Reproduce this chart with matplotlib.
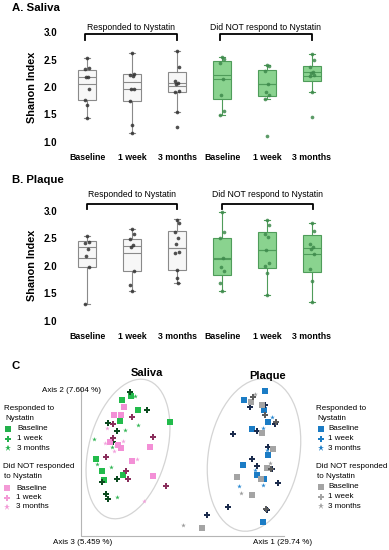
import numpy as np
import matplotlib
matplotlib.use("Agg")
import matplotlib.pyplot as plt
from matplotlib.patches import Ellipse

plt.rcParams["font.family"] = ["Liberation Sans", "DejaVu Sans"]

W, H = 389, 550

# ---- Panel A / B data (Shannon index) ----
groups = ["Baseline", "1 week", "3 months", "Baseline", "1 week", "3 months"]

# saliva box stats
sal_q1 = [1.76, 1.75, 1.91, 1.78, 1.84, 2.11]
sal_q3 = [2.31, 2.23, 2.28, 2.47, 2.31, 2.39]
sal_med = [2.18, 2.09, 2.07, 2.21, 2.05, 2.27]
sal_mean = [2.06, 1.96, 2.02, 2.15, 2.05, 2.20]
sal_lo = [1.43, 1.16, 1.55, 1.49, 1.78, 1.90]
sal_hi = [2.53, 2.61, 2.65, 2.54, 2.40, 2.60]
sal_pts = [
    [2.53, 2.35, 2.32, 2.19, 2.18, 1.97, 1.76, 1.68, 1.43],
    [2.61, 2.24, 2.22, 2.20, 1.96, 1.96, 1.75, 1.30, 1.16],
    [2.65, 2.37, 2.10, 2.08, 2.05, 1.92, 1.91, 1.55, 1.28],
    [2.54, 2.50, 2.44, 2.15, 1.86, 1.57, 1.49],
    [2.40, 2.38, 2.29, 2.05, 1.91, 1.86, 1.78, 1.11],
    [2.60, 2.49, 2.37, 2.28, 2.25, 2.22, 2.20, 1.90, 1.45],
]

# plaque box stats
plq_q1 = [1.98, 1.90, 1.92, 1.84, 1.96, 1.89]
plq_q3 = [2.45, 2.49, 2.64, 2.51, 2.62, 2.56]
plq_med = [2.35, 2.36, 2.32, 2.15, 2.29, 2.32]
plq_mean = [2.15, 2.23, 2.32, 2.12, 2.29, 2.21]
plq_lo = [1.30, 1.55, 1.69, 1.54, 1.47, 1.35]
plq_hi = [2.54, 2.66, 2.85, 2.97, 2.84, 2.77]
plq_pts = [
    [2.54, 2.43, 2.42, 2.30, 2.18, 1.98, 1.30],
    [2.66, 2.57, 2.48, 2.38, 2.35, 1.91, 1.65, 1.55],
    [2.84, 2.77, 2.62, 2.51, 2.39, 2.25, 2.24, 1.93, 1.77, 1.69],
    [2.97, 2.62, 2.50, 2.14, 1.97, 1.90, 1.68, 1.54],
    [2.84, 2.75, 2.57, 2.53, 2.29, 2.05, 2.00, 1.86, 1.47],
    [2.77, 2.63, 2.40, 2.35, 2.30, 2.22, 1.94, 1.73, 1.35],
]

# ---- Panel C data (PCoA scores, projected) ----
sal_r_base_x = [50, 41, 57, 39, 89, 15, 21, 23, 42]
sal_r_base_y = [140, 136, 126, 115, 114, 77, 65, 56, 61]
sal_r_1w_x = [49, 66, 27, 36, 32, 21, 36, 25, 27]
sal_r_1w_y = [144, 126, 113, 105, 94, 54, 57, 42, 37]
sal_r_3m_x = [54, 44, 57, 13, 31, 30, 16, 36]
sal_r_3m_y = [140, 106, 111, 97, 89, 69, 72, 39]
sal_n_base_x = [43, 33, 40, 29, 40, 69, 51, 72, 37]
sal_n_base_y = [129, 121, 121, 94, 88, 89, 75, 60, 91]
sal_n_1w_x = [51, 32, 72, 32, 25, 45, 47, 85]
sal_n_1w_y = [119, 112, 99, 98, 79, 65, 57, 50]
sal_n_3m_x = [26, 42, 24, 33, 56, 63]
sal_n_3m_y = [108, 95, 93, 85, 77, 35]

plq_r_base_x = [184, 163, 183, 187, 171, 187, 162, 176, 183, 182]
plq_r_base_y = [145, 136, 126, 114, 107, 81, 71, 61, 57, 14]
plq_r_1w_x = [169, 184, 194, 152, 176, 187, 171, 176, 191, 197, 147, 126, 186]
plq_r_1w_y = [129, 131, 112, 102, 105, 89, 77, 70, 67, 53, 29, 21, 26]
plq_r_3m_x = [191, 182, 186, 174, 158, 182]
plq_r_3m_y = [119, 108, 86, 66, 50, 51]
plq_n_base_x = [170, 181, 181, 192, 186, 156, 171, 180, 121]
plq_n_base_y = [134, 131, 103, 87, 68, 59, 41, 57, 8]
plq_n_1w_x = [172, 184, 195, 190, 185]
plq_n_1w_y = [139, 121, 114, 67, 27]
plq_n_3m_x = [174, 189, 160, 102]
plq_n_3m_y = [142, 73, 43, 11]

fig = plt.figure(figsize=(W / 100, H / 100), dpi=100)


def rect(l, t, r, b):
    return [l / W, 1 - b / H, (r - l) / W, (b - t) / H]


over = fig.add_axes([0, 0, 1, 1], zorder=5)
over.set_xlim(0, W)
over.set_ylim(H, 0)
over.axis("off")
over.patch.set_alpha(0)

grey_edge = "#8a8a8a"
green_face = "#8ad38f"
green_edge = "#4f9c5a"
jit = [0.0, 0.04, -0.04, 0.02, -0.03, 0.05, -0.05, 0.01, -0.01, 0.03]


def box_panel(ax, q1, q3, med, mean, lo, hi, pts):
    stats = []
    for i in range(6):
        stats.append(dict(q1=q1[i], q3=q3[i], med=med[i], mean=mean[i],
                          whislo=lo[i], whishi=hi[i], fliers=[]))
    bp = ax.bxp(stats, positions=range(6), widths=0.38, patch_artist=True,
                showmeans=True, meanline=True, showfliers=False, capwidths=0.14,
                boxprops=dict(linewidth=0.8),
                whiskerprops=dict(linewidth=0.8),
                capprops=dict(linewidth=0.8),
                medianprops=dict(linewidth=0.8),
                meanprops=dict(linewidth=0.8, linestyle="-"))
    for i in range(6):
        if i < 3:
            fc, ec = "#f7f7f7", grey_edge
        else:
            fc, ec = green_face, green_edge
        bp["boxes"][i].set_facecolor(fc)
        bp["boxes"][i].set_edgecolor(ec)
        bp["medians"][i].set_color(ec)
        bp["means"][i].set_color(ec)
        for k in (2 * i, 2 * i + 1):
            bp["whiskers"][k].set_color(ec)
            bp["caps"][k].set_color(ec)
    for i, vals in enumerate(pts):
        xs = [i + jit[j % len(jit)] for j in range(len(vals))]
        col = "#333333" if i < 3 else "#3e8a4c"
        ax.scatter(xs, vals, s=7, color=col, alpha=0.85, zorder=4, linewidths=0)
    ax.set_xlim(-0.6, 5.6)
    ax.set_ylim(0.95, 3.05)
    ax.set_yticks([1.0, 1.5, 2.0, 2.5, 3.0])
    ax.set_yticklabels(["1.0", "1.5", "2.0", "2.5", "3.0"], fontweight="bold", fontsize=7)
    ax.set_xticks(range(6))
    ax.set_xticklabels(groups, fontweight="bold", fontsize=6.3)
    ax.tick_params(length=0, pad=6)
    ax.tick_params(axis="y", pad=2)
    for sp in ax.spines.values():
        sp.set_visible(False)
    ax.set_ylabel("Shanon Index", fontweight="bold", fontsize=7.8, labelpad=5)


ax_a = fig.add_axes(rect(60, 29.25, 339, 144.75))
box_panel(ax_a, sal_q1, sal_q3, sal_med, sal_mean, sal_lo, sal_hi, sal_pts)
ax_b = fig.add_axes(rect(60, 208, 339, 323.5))
box_panel(ax_b, plq_q1, plq_q3, plq_med, plq_mean, plq_lo, plq_hi, plq_pts)


def bracket(ax, x0, x1, ytop, ybot, ytxt, label):
    ax.plot([x0, x0, x1, x1], [ybot, ytop, ytop, ybot], color="black",
            lw=1.3, clip_on=False)
    ax.text((x0 + x1) / 2, ytxt, label, ha="center", va="center", fontsize=6.2)


bracket(ax_a, -0.05, 2.0, 2.96, 2.85, 3.09, "Responded to Nystatin")
bracket(ax_a, 2.95, 5.0, 2.96, 2.85, 3.09, "Did NOT respond to Nystatin")
bracket(ax_b, 0.0, 2.0, 3.13, 3.04, 3.29, "Responded to Nystatin")
bracket(ax_b, 3.0, 5.02, 3.13, 3.04, 3.29, "Did NOT respond to Nystatin")

over.text(12, 8, "A. Saliva", fontsize=8.2, fontweight="bold", va="center")
over.text(12, 180, "B. Plaque", fontsize=8.2, fontweight="bold", va="center")
over.text(12, 366, "C", fontsize=8.2, fontweight="bold", va="center")

# ---- Panel C ----
ax_c = fig.add_axes(rect(81, 372, 389, 536))
ax_c.set_xlim(0, 308)
ax_c.set_ylim(0, 164)
ax_c.axis("off")

ax_c.add_patch(Ellipse((47, 87), 78, 143, angle=-15, fill=False,
                       edgecolor="#d4d4d4", lw=0.9))
ax_c.add_patch(Ellipse((173, 81), 91, 154, angle=-10, fill=False,
                       edgecolor="#d4d4d4", lw=0.9))

series = [
    (sal_r_base_x, sal_r_base_y, "s", 17, "#22bb4b"),
    (sal_r_1w_x, sal_r_1w_y, "P", 14, "#0c4a1f"),
    (sal_r_3m_x, sal_r_3m_y, "*", 12, "#33b655"),
    (sal_n_base_x, sal_n_base_y, "s", 17, "#f38fd6"),
    (sal_n_1w_x, sal_n_1w_y, "P", 14, "#8a2f5c"),
    (sal_n_3m_x, sal_n_3m_y, "*", 12, "#f2a2dc"),
    (plq_r_base_x, plq_r_base_y, "s", 17, "#1b7cc5"),
    (plq_r_1w_x, plq_r_1w_y, "P", 14, "#1b2b4c"),
    (plq_r_3m_x, plq_r_3m_y, "*", 12, "#2b8ad2"),
    (plq_n_base_x, plq_n_base_y, "s", 17, "#a4a4a4"),
    (plq_n_1w_x, plq_n_1w_y, "P", 14, "#5c5c5c"),
    (plq_n_3m_x, plq_n_3m_y, "*", 12, "#9c9c9c"),
]
for xs, ys, m, s, c in series:
    ax_c.scatter(xs, ys, marker=m, s=s, color=c, linewidths=0, zorder=3)

# axis lines of the projection
over.plot([81, 81, 284], [388, 536, 536], color="#b5b5b5", lw=0.8)
over.text(42, 391, "Axis 2 (7.604 %)", fontsize=5.8, va="center")
over.text(53, 543, "Axis 3 (5.459 %)", fontsize=5.8, va="center")
over.text(253, 543, "Axis 1 (29.74 %)", fontsize=5.8, va="center")
over.text(147, 373, "Saliva", fontsize=8, fontweight="bold", ha="center", va="center")
over.text(268, 376, "Plaque", fontsize=8, fontweight="bold", ha="center", va="center")


def legend_block(x_head, x_mark, x_txt, y0, cols, head1, head2):
    over.text(x_head, y0, head1, fontsize=5.8, va="center")
    over.text(x_head + 1, y0 + 10, head2, fontsize=5.8, va="center")
    marks = [("s", 4.2), ("P", 4.2), ("*", 5.0)]
    for k, lab in enumerate(["Baseline", "1 week", "3 months"]):
        yy = y0 + 21 + k * 9.5
        over.plot([x_mark], [yy], marker=marks[k][0], ms=marks[k][1],
                  color=cols[k], mew=0, ls="none")
        over.text(x_txt, yy, lab, fontsize=5.8, va="center")


legend_block(4, 8.5, 17, 408, ["#22b04b", "#22b04b", "#22b04b"], "Responded to", "Nystatin")
legend_block(3, 7.5, 16, 467, ["#f39ad6", "#f39ad6", "#f39ad6"], "Did NOT responded", "to Nystatin")
legend_block(316, 321, 328, 408, ["#1b7cc5", "#1b7cc5", "#1b7cc5"], "Responded to", "Nystatin")
legend_block(316, 321, 328, 466, ["#a4a4a4", "#a4a4a4", "#a4a4a4"], "Did NOT responded", "to Nystatin")

fig.savefig("out.png", dpi=100)
